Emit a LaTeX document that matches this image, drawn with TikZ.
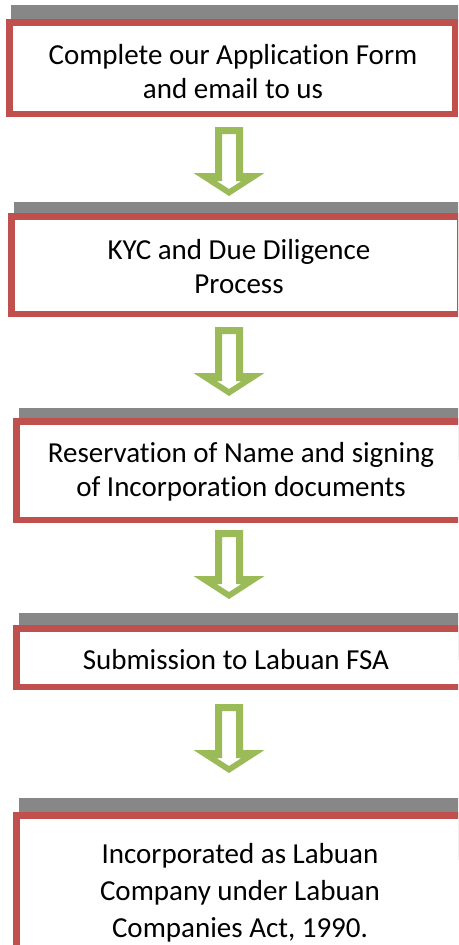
\documentclass[tikz,border=0pt]{standalone}
\usepackage{fontspec}
\setmainfont{Carlito}[Ligatures=NoCommon]
\newcommand{\tisep}{\kern0pt}
\definecolor{redb}{HTML}{C0504D}
\definecolor{grayb}{HTML}{878787}
\definecolor{greena}{HTML}{9BBB59}
\begin{document}
\begin{tikzpicture}[x=1pt,y=-1pt,
  graybar/.style={fill=grayb,draw=none},
  redbox/.style={draw=redb,line width=6.5pt,fill=white},
  lbl/.style={font=\fontsize{29}{34}\selectfont,align=center,inner sep=0pt},
  downarr/.pic={\fill[greena,even odd rule]
     (-14,0) -- (14,0) -- (14,46) -- (35.5,46) -- (0,69) -- (-35.5,46) -- (-14,46) -- cycle
     (-7,7) -- (7,7) -- (7,54) -- (12.5,54) -- (0,62) -- (-12.5,54) -- (-7,54) -- cycle;}]
\useasboundingbox (0,0) rectangle (458,945);
\clip (0,0) rectangle (458,945);
\fill[white] (0,0) rectangle (458,945);

% box 1
\path[graybar] (11,5) rectangle (475,60);
\draw[redbox] (9.25,22.25) rectangle (455,113.75);
\node[lbl] (t1) at (233,72) {Complete our Applicat\tisep{}ion Form\\and email to us};
% box 2
\path[graybar] (14,202) rectangle (475,260);
\draw[redbox] (11.25,216.25) rectangle (460,313.75);
\node[lbl] (t2) at (239,267) {KYC and Due Diligence\\Process};
% box 3
\path[graybar] (19,408) rectangle (475,460);
\draw[redbox] (16.25,421.25) rectangle (468,519.75);
\node[lbl] (t3) at (241,472) {Reservat\tisep{}ion of Name and signing\\of Incorporat\tisep{}ion documents};
% box 4
\path[graybar] (19,613) rectangle (475,660);
\draw[redbox] (16.25,628.25) rectangle (468,686.75);
\node[lbl] (t4) at (236,660) {Submission to Labuan FSA};
% box 5
\path[graybar] (19,798) rectangle (475,860);
\draw[redbox] (16.25,815.25) rectangle (468,980);
\node[lbl,font=\fontsize{29}{37}\selectfont] (t5) at (240,893) {Incorporated as Labuan\\Company under Labuan\\Companies Act, 1990.};

% arrows
\pic (a1) at (229,127) {downarr};
\pic (a2) at (229,327) {downarr};
\pic (a3) at (229,530) {downarr};
\pic (a4) at (229,704) {downarr};
\end{tikzpicture}
\end{document}
